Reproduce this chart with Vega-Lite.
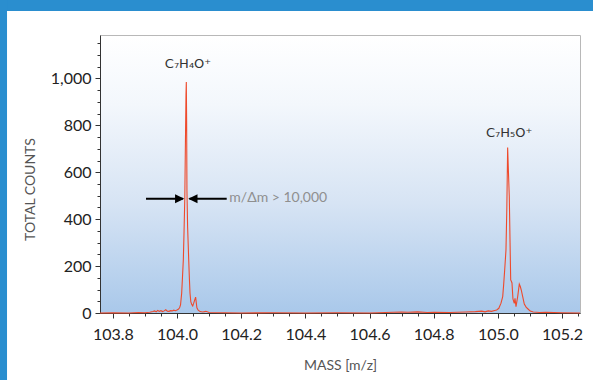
{
  "$schema": "https://vega.github.io/schema/vega-lite/v6.json",
  "width": 480,
  "height": 278,
  "autosize": {"type": "none"},
  "padding": {"left": 100, "top": 35, "right": 13, "bottom": 67},
  "background": "#ffffff",
  "config": {
    "font": "Lato",
    "view": {
      "stroke": "#b8b8b8",
      "strokeWidth": 1,
      "fill": {
        "gradient": "linear", "x1": 0, "y1": 0, "x2": 0, "y2": 1,
        "stops": [
          {"offset": 0, "color": "#ffffff"},
          {"offset": 0.25, "color": "#f3f7fc"},
          {"offset": 0.6, "color": "#d7e4f4"},
          {"offset": 1, "color": "#a9c8ea"}
        ]
      }
    },
    "axis": {"grid": false, "domainColor": "#333333", "tickColor": "#333333", "labelFont": "Lato", "titleFont": "Lato"}
  },
  "datasets": {
    "spectrum": [
      {"mz": 103.76, "counts": 0}, {"mz": 103.8, "counts": 1}, {"mz": 103.85, "counts": 0}, {"mz": 103.88, "counts": 2},
      {"mz": 103.9, "counts": 1}, {"mz": 103.915, "counts": 3}, {"mz": 103.925, "counts": 6}, {"mz": 103.93, "counts": 9},
      {"mz": 103.935, "counts": 5}, {"mz": 103.94, "counts": 11}, {"mz": 103.945, "counts": 7}, {"mz": 103.95, "counts": 10},
      {"mz": 103.955, "counts": 6}, {"mz": 103.96, "counts": 9}, {"mz": 103.965, "counts": 14}, {"mz": 103.97, "counts": 8},
      {"mz": 103.975, "counts": 7}, {"mz": 103.98, "counts": 10}, {"mz": 103.985, "counts": 9}, {"mz": 103.99, "counts": 12},
      {"mz": 103.995, "counts": 10}, {"mz": 104.0, "counts": 13}, {"mz": 104.004, "counts": 16}, {"mz": 104.008, "counts": 22},
      {"mz": 104.011, "counts": 35}, {"mz": 104.0146, "counts": 85}, {"mz": 104.017, "counts": 150}, {"mz": 104.0197, "counts": 226},
      {"mz": 104.022, "counts": 350}, {"mz": 104.0243, "counts": 490}, {"mz": 104.026, "counts": 700}, {"mz": 104.028, "counts": 930},
      {"mz": 104.029, "counts": 985}, {"mz": 104.03, "counts": 820}, {"mz": 104.031, "counts": 520}, {"mz": 104.033, "counts": 370},
      {"mz": 104.0365, "counts": 226}, {"mz": 104.0385, "counts": 150}, {"mz": 104.0405, "counts": 85}, {"mz": 104.043, "counts": 48},
      {"mz": 104.046, "counts": 36}, {"mz": 104.049, "counts": 30}, {"mz": 104.052, "counts": 42}, {"mz": 104.055, "counts": 55},
      {"mz": 104.058, "counts": 68}, {"mz": 104.06, "counts": 45}, {"mz": 104.062, "counts": 22}, {"mz": 104.066, "counts": 12},
      {"mz": 104.072, "counts": 6}, {"mz": 104.08, "counts": 4}, {"mz": 104.09, "counts": 7}, {"mz": 104.1, "counts": 2},
      {"mz": 104.15, "counts": 1}, {"mz": 104.2, "counts": 0}, {"mz": 104.3, "counts": 1}, {"mz": 104.4, "counts": 0},
      {"mz": 104.5, "counts": 1}, {"mz": 104.6, "counts": 0}, {"mz": 104.65, "counts": 2}, {"mz": 104.7, "counts": 4},
      {"mz": 104.72, "counts": 3}, {"mz": 104.75, "counts": 5}, {"mz": 104.78, "counts": 2}, {"mz": 104.8, "counts": 3},
      {"mz": 104.85, "counts": 2}, {"mz": 104.9, "counts": 4}, {"mz": 104.93, "counts": 6}, {"mz": 104.95, "counts": 8},
      {"mz": 104.96, "counts": 5}, {"mz": 104.97, "counts": 9}, {"mz": 104.98, "counts": 7}, {"mz": 104.99, "counts": 11},
      {"mz": 104.9964, "counts": 13}, {"mz": 105.003, "counts": 20}, {"mz": 105.0098, "counts": 42}, {"mz": 105.0151, "counts": 70},
      {"mz": 105.018, "counts": 120}, {"mz": 105.0213, "counts": 184}, {"mz": 105.0253, "counts": 269}, {"mz": 105.028, "counts": 450},
      {"mz": 105.0305, "counts": 705}, {"mz": 105.033, "counts": 600}, {"mz": 105.0356, "counts": 497}, {"mz": 105.038, "counts": 300},
      {"mz": 105.04, "counts": 141}, {"mz": 105.042, "counts": 135}, {"mz": 105.044, "counts": 128}, {"mz": 105.047, "counts": 60},
      {"mz": 105.0512, "counts": 41}, {"mz": 105.0534, "counts": 63}, {"mz": 105.0565, "counts": 27}, {"mz": 105.0618, "counts": 70},
      {"mz": 105.0668, "counts": 123}, {"mz": 105.0699, "counts": 113}, {"mz": 105.073, "counts": 98}, {"mz": 105.0774, "counts": 70},
      {"mz": 105.0824, "counts": 38}, {"mz": 105.088, "counts": 25}, {"mz": 105.0948, "counts": 16}, {"mz": 105.101, "counts": 8},
      {"mz": 105.1104, "counts": 4}, {"mz": 105.13, "counts": 2}, {"mz": 105.15, "counts": 3}, {"mz": 105.2, "counts": 1},
      {"mz": 105.256, "counts": 0}
    ],
    "frame": [
      {"x1": 103.3, "x2": 105.6, "y1": 1287, "y2": 1500},
      {"x1": 103.3, "x2": 103.4702, "y1": -400, "y2": 1500}
    ],
    "arrows": [
      {"x1": 103.9034, "x2": 104.018, "y": 487},
      {"x1": 104.039, "x2": 104.1549, "y": 487}
    ],
    "heads": [
      {"x": 104.0227, "y": 487, "dir": "right"},
      {"x": 104.0352, "y": 487, "dir": "left"}
    ],
    "ions": [
      {"x": 104.0343, "y": 1043, "text": "C₇H₄O⁺"},
      {"x": 105.0353, "y": 751, "text": "C₇H₅O⁺"}
    ],
    "note": [
      {"x": 104.163, "y": 472, "text": "m/Δm > 10,000"}
    ]
  },
  "layer": [
    {
      "data": {"name": "frame"},
      "mark": {"type": "rect", "color": "#2a8ecf", "clip": false},
      "encoding": {
        "x": {"field": "x1", "type": "quantitative", "axis": null, "scale": {"domain": [103.76, 105.256], "nice": false, "zero": false}},
        "x2": {"field": "x2"},
        "y": {"field": "y1", "type": "quantitative", "axis": null, "scale": {"domain": [0, 1185], "nice": false, "zero": false}},
        "y2": {"field": "y2"}
      }
    },
    {
      "data": {"name": "spectrum"},
      "mark": {"type": "line", "color": "#ee4a2c", "strokeWidth": 1.1},
      "encoding": {
        "x": {
          "field": "mz", "type": "quantitative",
          "scale": {"domain": [103.76, 105.256], "nice": false, "zero": false},
          "axis": {
            "orient": "bottom",
            "values": [103.8, 104.0, 104.2, 104.4, 104.6, 104.8, 105.0, 105.2],
            "labelExpr": "format(datum.value, '.1f')", "tickSize": 5, "labelPadding": 8, "labelFontSize": 16, "labelColor": "#222222",
            "labelFlush": false, "labelOverlap": false,
            "title": "MASS [m/z]", "titleFontSize": 14, "titleFontWeight": "normal", "titleColor": "#555555", "titlePadding": 16
          }
        },
        "y": {
          "field": "counts", "type": "quantitative",
          "scale": {"domain": [0, 1185], "nice": false, "zero": false},
          "axis": {
            "orient": "left",
            "values": [0, 200, 400, 600, 800, 1000],
            "labelExpr": "format(datum.value, ',.0f')", "tickSize": 5, "labelPadding": 4, "labelFontSize": 16, "labelColor": "#222222",
            "labelFlush": false, "labelOverlap": false,
            "title": "TOTAL COUNTS", "titleFontSize": 14, "titleFontWeight": "normal", "titleColor": "#555555",
            "titleX": -63, "titleY": 154
          }
        }
      }
    },
    {
      "data": {"name": "arrows"},
      "mark": {"type": "rule", "color": "#000000", "strokeWidth": 2},
      "encoding": {
        "x": {
          "field": "x1", "type": "quantitative",
          "scale": {"domain": [103.76, 105.256], "nice": false, "zero": false},
          "axis": {
            "orient": "bottom",
            "values": [103.8, 103.85, 103.9, 103.95, 104.0, 104.05, 104.1, 104.15, 104.2, 104.25, 104.3, 104.35, 104.4, 104.45, 104.5, 104.55, 104.6, 104.65, 104.7, 104.75, 104.8, 104.85, 104.9, 104.95, 105.0, 105.05, 105.1, 105.15, 105.2, 105.25],
            "labels": false, "domain": false, "tickSize": 3, "title": null
          }
        },
        "x2": {"field": "x2"},
        "y": {
          "field": "y", "type": "quantitative",
          "scale": {"domain": [0, 1185], "nice": false, "zero": false},
          "axis": {
            "orient": "left",
            "values": [0, 50, 100, 150, 200, 250, 300, 350, 400, 450, 500, 550, 600, 650, 700, 750, 800, 850, 900, 950, 1000, 1050, 1100, 1150],
            "labels": false, "domain": false, "tickSize": 3, "title": null
          }
        }
      }
    },
    {
      "data": {"name": "heads"},
      "mark": {"type": "point", "filled": true, "color": "#000000", "opacity": 1, "size": 340},
      "encoding": {
        "x": {"field": "x", "type": "quantitative", "axis": null, "scale": {"domain": [103.76, 105.256], "nice": false, "zero": false}},
        "y": {"field": "y", "type": "quantitative", "axis": null, "scale": {"domain": [0, 1185], "nice": false, "zero": false}},
        "shape": {
          "field": "dir", "type": "nominal", "legend": null,
          "scale": {"domain": ["right", "left"], "range": ["M0,0L-1,-0.5L-1,0.5Z", "M0,0L1,-0.5L1,0.5Z"]}
        }
      }
    },
    {
      "data": {"name": "ions"},
      "mark": {"type": "text", "fontSize": 13, "color": "#333333", "align": "center", "baseline": "alphabetic", "font": "DejaVu Sans"},
      "encoding": {
        "x": {"field": "x", "type": "quantitative", "axis": null, "scale": {"domain": [103.76, 105.256], "nice": false, "zero": false}},
        "y": {"field": "y", "type": "quantitative", "axis": null, "scale": {"domain": [0, 1185], "nice": false, "zero": false}},
        "text": {"field": "text"}
      }
    },
    {
      "data": {"name": "note"},
      "mark": {"type": "text", "fontSize": 14, "color": "#8f8f8f", "align": "left", "baseline": "alphabetic", "font": "Lato"},
      "encoding": {
        "x": {"field": "x", "type": "quantitative", "axis": null, "scale": {"domain": [103.76, 105.256], "nice": false, "zero": false}},
        "y": {"field": "y", "type": "quantitative", "axis": null, "scale": {"domain": [0, 1185], "nice": false, "zero": false}},
        "text": {"field": "text"}
      }
    }
  ],
  "resolve": {"axis": {"x": "independent", "y": "independent"}}
}
